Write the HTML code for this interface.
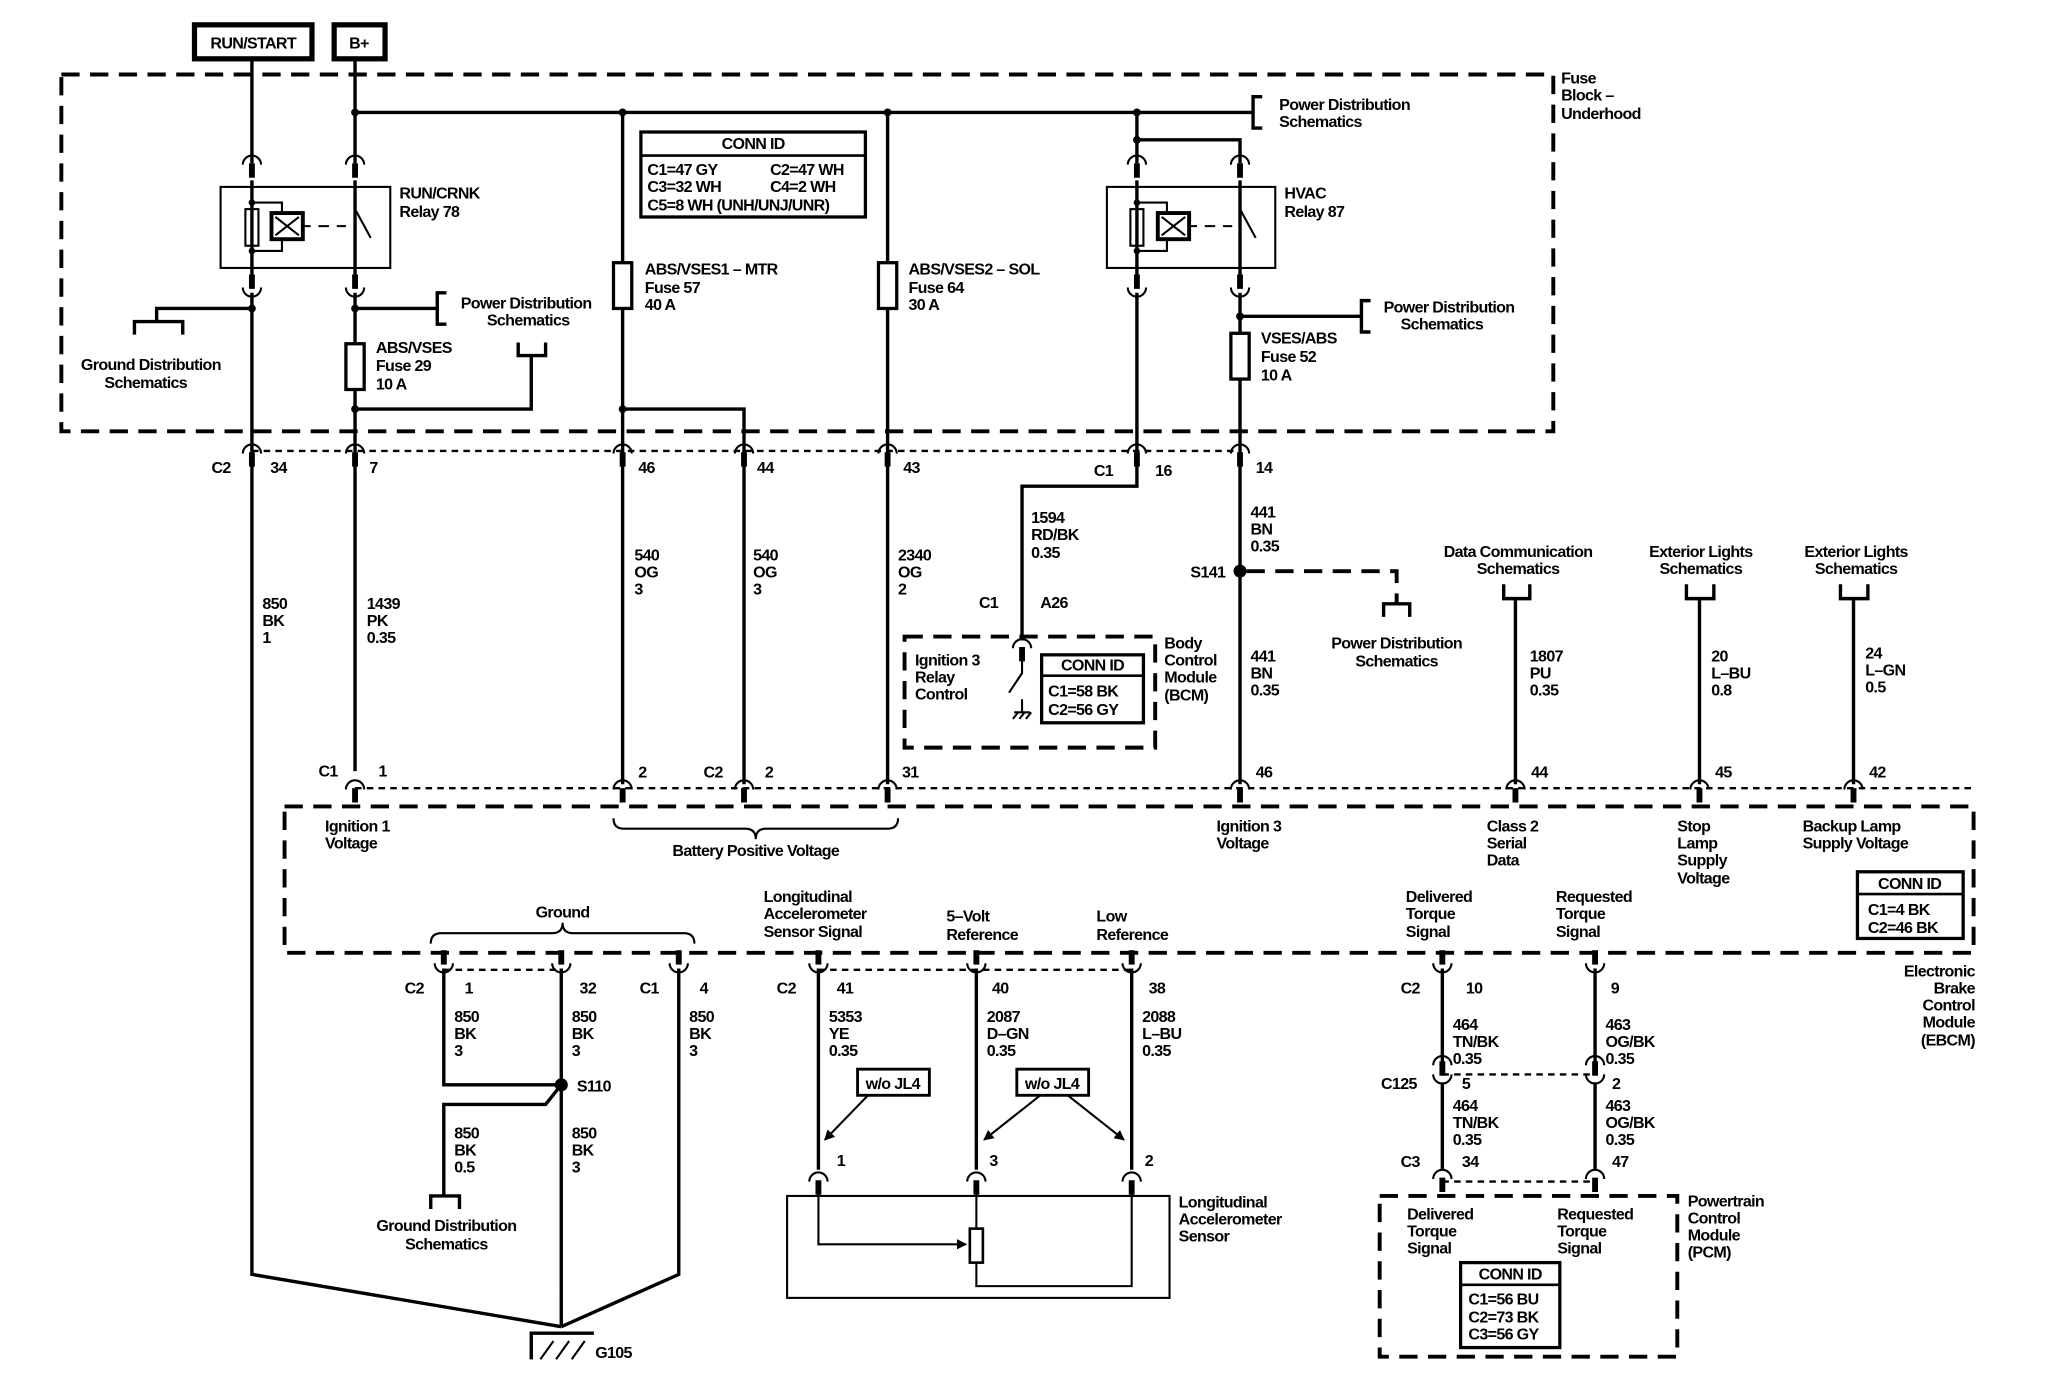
<!DOCTYPE html>
<html><head><meta charset="utf-8"><style>
html,body{margin:0;padding:0;background:#fff;}
svg{display:block;}
text{font-family:"Liberation Sans",Arial,sans-serif;font-size:12.3px;font-weight:bold;fill:#000;letter-spacing:-0.5px;}
.w{stroke:#000;stroke-width:2.6;fill:none;}
.t{stroke:#000;stroke-width:1.6;fill:none;}
.d{stroke:#000;stroke-width:3;fill:none;stroke-dasharray:14 8;}
.dd{stroke:#000;stroke-width:1.8;fill:none;stroke-dasharray:5 4;}
</style></head><body>
<svg width="2048" height="1392" viewBox="0 0 1569 1065" preserveAspectRatio="none" xmlns="http://www.w3.org/2000/svg">
<defs>
<g id="cap"><path d="M-7,4 A7,7 0 0 1 7,4" class="t" stroke-width="2.2"/><line x1="0" y1="3" x2="0" y2="14" stroke="#000" stroke-width="4.5"/></g>
<g id="cup"><path d="M-7,-4 A7,7 0 0 0 7,-4" class="t" stroke-width="2.2"/><line x1="0" y1="-3" x2="0" y2="-14" stroke="#000" stroke-width="4.5"/></g>
<marker id="ar" markerWidth="8" markerHeight="8" refX="7" refY="4" orient="auto" markerUnits="userSpaceOnUse"><path d="M0,0 L8,4 L0,8 z" fill="#000"/></marker>
</defs>

<rect x="149" y="19" width="90" height="26" fill="none" stroke="#000" stroke-width="4"/>
<text x="194" y="37" text-anchor="middle" font-size="12">RUN/START</text>
<rect x="256" y="19" width="39" height="26" fill="none" stroke="#000" stroke-width="4"/>
<text x="275" y="37" text-anchor="middle">B+</text>

<rect x="47" y="57" width="1143" height="273" class="d"/>
<text x="1196" y="64">Fuse</text><text x="1196" y="77">Block –</text><text x="1196" y="91">Underhood</text>

<path class="w" d="M193,46 V125 M193,138 V211 M193,224 V975 L430,1015"/>
<path class="w" d="M272,46 V125 M272,138 V211 M272,224 V590"/>
<path class="w" d="M272,86 H960"/>
<path class="w" d="M477,86 V600 M680,86 V600"/>
<path class="w" d="M477,313 H570 V600"/>
<path class="w" d="M871,86 V125 M871,138 V211 M871,224 V345"/>
<path class="w" d="M871,107 H950 V125 M950,138 V211 M950,224 V600"/>
<path class="w" d="M272,313 H407 V272"/>
<circle cx="272" cy="86" r="3"/><circle cx="477" cy="86" r="3"/><circle cx="680" cy="86" r="3"/><circle cx="871" cy="86" r="3"/><circle cx="871" cy="107" r="3"/>
<circle cx="272" cy="313" r="3"/><circle cx="477" cy="313" r="3"/><circle cx="193" cy="236" r="3"/><circle cx="272" cy="236" r="3"/><circle cx="950" cy="242" r="3"/>

<path class="w" d="M967,74 H960 V98 H967"/>
<text x="980" y="84">Power Distribution</text><text x="980" y="97">Schematics</text>
<path class="w" d="M272,236 H335 M342,224 H335 V248 H342"/>
<text x="353" y="236">Power Distribution</text><text x="373" y="249">Schematics</text>
<path class="w" d="M397,262 V272 H418 V262"/>
<path class="w" d="M193,236 H120 V246 M103,256 V246 H140 V256"/>
<text x="62" y="283">Ground Distribution</text><text x="80" y="297">Schematics</text>
<path class="w" d="M950,242 H1043 M1050,230 H1043 V254 H1050"/>
<text x="1060" y="239">Power Distribution</text><text x="1073" y="252">Schematics</text>

<rect x="169" y="143" width="130" height="62" class="t" stroke-width="2"/>
<rect x="188" y="160" width="10" height="28" class="t" stroke-width="2"/>
<path class="t" stroke-width="2" d="M193,155 H216 V163 M216,184 V192 H193"/>
<circle cx="193" cy="155" r="2.5"/><circle cx="193" cy="192" r="2.5"/>
<rect x="208" y="163" width="24" height="20" fill="none" stroke="#000" stroke-width="3"/>
<path class="t" d="M211,166 L229,180 M229,166 L211,180"/>
<path class="t" stroke-width="2" d="M232,173 H238 M244,173 H252 M258,173 H265"/>
<path class="t" stroke-width="2" d="M272,150 V160 L284,182 M272,190 V205"/>
<use href="#cap" x="193" y="122"/><use href="#cap" x="272" y="122"/>
<use href="#cup" x="193" y="224"/><use href="#cup" x="272" y="224"/>
<text x="306" y="152">RUN/CRNK</text><text x="306" y="166">Relay 78</text>

<rect x="848" y="143" width="129" height="62" class="t" stroke-width="2"/>
<rect x="866" y="160" width="10" height="28" class="t" stroke-width="2"/>
<path class="t" stroke-width="2" d="M871,155 H894 V163 M894,184 V192 H871"/>
<circle cx="871" cy="155" r="2.5"/><circle cx="871" cy="192" r="2.5"/>
<rect x="887" y="163" width="24" height="20" fill="none" stroke="#000" stroke-width="3"/>
<path class="t" d="M890,166 L908,180 M908,166 L890,180"/>
<path class="t" stroke-width="2" d="M911,173 H917 M923,173 H931 M937,173 H944"/>
<path class="t" stroke-width="2" d="M950,150 V160 L962,182 M950,190 V205"/>
<use href="#cap" x="871" y="122"/><use href="#cap" x="950" y="122"/>
<use href="#cup" x="871" y="224"/><use href="#cup" x="950" y="224"/>
<text x="984" y="152">HVAC</text><text x="984" y="166">Relay 87</text>

<rect x="265" y="263" width="14" height="35" fill="#fff" stroke="#000" stroke-width="2.5"/>
<text x="288" y="270">ABS/VSES</text><text x="288" y="284">Fuse 29</text><text x="288" y="298">10 A</text>
<rect x="470" y="201" width="14" height="35" fill="#fff" stroke="#000" stroke-width="2.5"/>
<text x="494" y="210">ABS/VSES1 – MTR</text><text x="494" y="224">Fuse 57</text><text x="494" y="237">40 A</text>
<rect x="673" y="201" width="14" height="35" fill="#fff" stroke="#000" stroke-width="2.5"/>
<text x="696" y="210">ABS/VSES2 – SOL</text><text x="696" y="224">Fuse 64</text><text x="696" y="237">30 A</text>
<rect x="943" y="255" width="14" height="35" fill="#fff" stroke="#000" stroke-width="2.5"/>
<text x="966" y="263">VSES/ABS</text><text x="966" y="277">Fuse 52</text><text x="966" y="291">10 A</text>

<rect x="491" y="101" width="172" height="65" fill="#fff" stroke="#000" stroke-width="2.5"/>
<line x1="491" y1="119" x2="663" y2="119" stroke="#000" stroke-width="2"/>
<text x="577" y="114" text-anchor="middle">CONN ID</text>
<text x="496" y="134">C1=47 GY</text><text x="590" y="134">C2=47 WH</text>
<text x="496" y="147">C3=32 WH</text><text x="590" y="147">C4=2 WH</text>
<text x="496" y="161">C5=8 WH (UNH/UNJ/UNR)</text>

<path class="dd" d="M193,345 H950"/>
<use href="#cap" x="193" y="343"/><use href="#cap" x="272" y="343"/><use href="#cap" x="477" y="343"/><use href="#cap" x="570" y="343"/><use href="#cap" x="680" y="343"/><use href="#cap" x="871" y="343"/><use href="#cap" x="950" y="343"/>
<text x="162" y="362">C2</text><text x="207" y="362">34</text><text x="283" y="362">7</text><text x="489" y="362">46</text><text x="580" y="362">44</text><text x="692" y="362">43</text>
<text x="838" y="364">C1</text><text x="885" y="364">16</text><text x="962" y="362">14</text>

<text x="201" y="466">850</text><text x="201" y="479">BK</text><text x="201" y="492">1</text>
<text x="281" y="466">1439</text><text x="281" y="479">PK</text><text x="281" y="492">0.35</text>
<text x="486" y="429">540</text><text x="486" y="442">OG</text><text x="486" y="455">3</text>
<text x="577" y="429">540</text><text x="577" y="442">OG</text><text x="577" y="455">3</text>
<text x="688" y="429">2340</text><text x="688" y="442">OG</text><text x="688" y="455">2</text>
<text x="790" y="400">1594</text><text x="790" y="413">RD/BK</text><text x="790" y="427">0.35</text>
<text x="958" y="396">441</text><text x="958" y="409">BN</text><text x="958" y="422">0.35</text>
<text x="958" y="506">441</text><text x="958" y="519">BN</text><text x="958" y="532">0.35</text>

<path class="w" d="M871,345 V372 H783 V490"/>
<use href="#cap" x="783" y="492"/>
<text x="750" y="465">C1</text><text x="797" y="465">A26</text>
<path class="t" stroke-width="2" d="M783,506 V515 L773,530 M783,535 V545 M777,545 H789 M776,550 L780,545 M781,550 L785,545 M786,550 L790,545"/>
<rect x="693" y="487" width="192" height="85" class="d" stroke-width="2.6" stroke-dasharray="12 7"/>
<text x="701" y="509">Ignition 3</text><text x="701" y="522">Relay</text><text x="701" y="535">Control</text>
<rect x="798" y="501" width="78" height="52" fill="#fff" stroke="#000" stroke-width="2.5"/>
<line x1="798" y1="517" x2="876" y2="517" stroke="#000" stroke-width="2"/>
<text x="837" y="513" text-anchor="middle">CONN ID</text>
<text x="803" y="533">C1=58 BK</text><text x="803" y="547">C2=56 GY</text>
<text x="892" y="496">Body</text><text x="892" y="509">Control</text><text x="892" y="522">Module</text><text x="892" y="536">(BCM)</text>

<circle cx="950" cy="437" r="5"/>
<text x="912" y="442">S141</text>
<path class="d" stroke-width="2.6" stroke-dasharray="10 7" d="M955,437 H1070 V462"/>
<path class="w" d="M1070,455 V462 M1060,472 V462 H1080 V472"/>
<text x="1070" y="496" text-anchor="middle">Power Distribution</text><text x="1070" y="510" text-anchor="middle">Schematics</text>

<text x="1163" y="426" text-anchor="middle">Data Communication</text><text x="1163" y="439" text-anchor="middle">Schematics</text>
<path class="w" d="M1152,447 V458 H1172 V447 M1161,458 V600"/>
<text x="1172" y="506">1807</text><text x="1172" y="519">PU</text><text x="1172" y="532">0.35</text>
<text x="1303" y="426" text-anchor="middle">Exterior Lights</text><text x="1303" y="439" text-anchor="middle">Schematics</text>
<path class="w" d="M1292,447 V458 H1313 V447 M1302,458 V600"/>
<text x="1311" y="506">20</text><text x="1311" y="519">L–BU</text><text x="1311" y="532">0.8</text>
<text x="1422" y="426" text-anchor="middle">Exterior Lights</text><text x="1422" y="439" text-anchor="middle">Schematics</text>
<path class="w" d="M1410,447 V458 H1431 V447 M1420,458 V600"/>
<text x="1429" y="504">24</text><text x="1429" y="517">L–GN</text><text x="1429" y="530">0.5</text>

<rect x="218" y="617" width="1294" height="112" class="d"/>
<path class="dd" d="M272,603 H1512"/>
<use href="#cap" x="272" y="600"/><use href="#cap" x="477" y="600"/><use href="#cap" x="570" y="600"/><use href="#cap" x="680" y="600"/><use href="#cap" x="950" y="600"/><use href="#cap" x="1161" y="600"/><use href="#cap" x="1302" y="600"/><use href="#cap" x="1420" y="600"/>
<text x="244" y="594">C1</text><text x="290" y="594">1</text><text x="489" y="595">2</text><text x="539" y="595">C2</text><text x="586" y="595">2</text><text x="691" y="595">31</text>
<text x="962" y="595">46</text><text x="1173" y="595">44</text><text x="1314" y="595">45</text><text x="1432" y="595">42</text>
<text x="249" y="636">Ignition 1</text><text x="249" y="649">Voltage</text>
<path class="t" stroke-width="2" d="M470,626 Q470,634 478,634 H571 Q579,634 579,642 Q579,634 587,634 H680 Q688,634 688,626"/>
<text x="579" y="655" text-anchor="middle">Battery Positive Voltage</text>
<text x="932" y="636">Ignition 3</text><text x="932" y="649">Voltage</text>
<text x="1139" y="636">Class 2</text><text x="1139" y="649">Serial</text><text x="1139" y="662">Data</text>
<text x="1285" y="636">Stop</text><text x="1285" y="649">Lamp</text><text x="1285" y="662">Supply</text><text x="1285" y="676">Voltage</text>
<text x="1381" y="636">Backup Lamp</text><text x="1381" y="649">Supply Voltage</text>
<path class="t" stroke-width="2" d="M330,722 Q330,714 338,714 H423 Q431,714 431,706 Q431,714 439,714 H524 Q532,714 532,722"/>
<text x="431" y="702" text-anchor="middle">Ground</text>
<text x="585" y="690">Longitudinal</text><text x="585" y="703">Accelerometer</text><text x="585" y="717">Sensor Signal</text>
<text x="725" y="705">5–Volt</text><text x="725" y="719">Reference</text>
<text x="840" y="705">Low</text><text x="840" y="719">Reference</text>
<text x="1077" y="690">Delivered</text><text x="1077" y="703">Torque</text><text x="1077" y="717">Signal</text>
<text x="1192" y="690">Requested</text><text x="1192" y="703">Torque</text><text x="1192" y="717">Signal</text>
<rect x="1423" y="667" width="81" height="51" fill="#fff" stroke="#000" stroke-width="2.5"/>
<line x1="1423" y1="684" x2="1504" y2="684" stroke="#000" stroke-width="2"/>
<text x="1463" y="680" text-anchor="middle">CONN ID</text>
<text x="1431" y="700">C1=4 BK</text><text x="1431" y="714">C2=46 BK</text>
<g text-anchor="end"><text x="1513" y="747">Electronic</text><text x="1513" y="760">Brake</text><text x="1513" y="773">Control</text><text x="1513" y="786">Module</text><text x="1513" y="800">(EBCM)</text></g>

<path class="dd" d="M340,742 H430 M627,742 H867"/>
<use href="#cup" x="340" y="741"/><use href="#cup" x="430" y="741"/><use href="#cup" x="520" y="741"/><use href="#cup" x="627" y="741"/><use href="#cup" x="748" y="741"/><use href="#cup" x="867" y="741"/><use href="#cup" x="1105" y="741"/><use href="#cup" x="1222" y="741"/>
<text x="310" y="760">C2</text><text x="356" y="760">1</text><text x="444" y="760">32</text><text x="490" y="760">C1</text><text x="536" y="760">4</text>
<text x="595" y="760">C2</text><text x="641" y="760">41</text><text x="760" y="760">40</text><text x="880" y="760">38</text>
<text x="1073" y="760">C2</text><text x="1123" y="760">10</text><text x="1234" y="760">9</text>

<path class="w" d="M340,741 V830 H430 M430,741 V1015 M520,741 V975 L430,1015"/>
<path class="w" d="M430,830 L418,845 H340 V915 M330,925 V915 H352 V925"/>
<circle cx="430" cy="830" r="5"/><text x="442" y="835">S110</text>
<text x="348" y="782">850</text><text x="348" y="795">BK</text><text x="348" y="808">3</text>
<text x="438" y="782">850</text><text x="438" y="795">BK</text><text x="438" y="808">3</text>
<text x="528" y="782">850</text><text x="528" y="795">BK</text><text x="528" y="808">3</text>
<text x="348" y="871">850</text><text x="348" y="884">BK</text><text x="348" y="897">0.5</text>
<text x="438" y="871">850</text><text x="438" y="884">BK</text><text x="438" y="897">3</text>
<text x="342" y="942" text-anchor="middle">Ground Distribution</text><text x="342" y="956" text-anchor="middle">Schematics</text>
<path class="w" d="M407,1040 V1020 H455"/>
<path class="t" stroke-width="2" d="M414,1040 L424,1026 M426,1040 L436,1026 M438,1040 L448,1026"/>
<text x="456" y="1039">G105</text>

<path class="w" d="M627,741 V895 M748,741 V895 M867,741 V895"/>
<text x="635" y="782">5353</text><text x="635" y="795">YE</text><text x="635" y="808">0.35</text>
<text x="756" y="782">2087</text><text x="756" y="795">D–GN</text><text x="756" y="808">0.35</text>
<text x="875" y="782">2088</text><text x="875" y="795">L–BU</text><text x="875" y="808">0.35</text>
<rect x="657" y="818" width="55" height="20" fill="#fff" stroke="#000" stroke-width="2.2"/><text x="684" y="833" text-anchor="middle">w/o JL4</text>
<rect x="779" y="818" width="55" height="20" fill="#fff" stroke="#000" stroke-width="2.2"/><text x="806" y="833" text-anchor="middle">w/o JL4</text>
<path class="t" d="M665,838 L632,872" marker-end="url(#ar)"/>
<path class="t" d="M797,838 L754,872" marker-end="url(#ar)"/>
<path class="t" d="M818,838 L861,872" marker-end="url(#ar)"/>
<rect x="603" y="915" width="293" height="78" class="t" stroke-width="2"/>
<use href="#cap" x="627" y="900"/><use href="#cap" x="748" y="900"/><use href="#cap" x="867" y="900"/>
<text x="641" y="892">1</text><text x="758" y="892">3</text><text x="877" y="892">2</text>
<path class="t" stroke-width="2.2" d="M627,912 V952 H740" marker-end="url(#ar)"/>
<path class="t" stroke-width="2.2" d="M748,912 V940 M748,966 V984 H867 V912"/>
<rect x="743" y="940" width="10" height="26" fill="#fff" stroke="#000" stroke-width="2"/>
<text x="903" y="924">Longitudinal</text><text x="903" y="937">Accelerometer</text><text x="903" y="950">Sensor</text>

<path class="w" d="M1105,741 V815 M1105,828 V895 M1222,741 V815 M1222,828 V895"/>
<path class="dd" d="M1105,822 H1222 M1105,904 H1222"/>
<use href="#cup" x="1105" y="826"/><use href="#cup" x="1222" y="826"/>
<path d="M1098,815 A7,7 0 0 1 1112,815 M1215,815 A7,7 0 0 1 1229,815" class="t" stroke-width="2.2"/>
<text x="1113" y="788">464</text><text x="1113" y="801">TN/BK</text><text x="1113" y="814">0.35</text>
<text x="1230" y="788">463</text><text x="1230" y="801">OG/BK</text><text x="1230" y="814">0.35</text>
<text x="1058" y="833">C125</text><text x="1120" y="833">5</text><text x="1235" y="833">2</text>
<text x="1113" y="850">464</text><text x="1113" y="863">TN/BK</text><text x="1113" y="876">0.35</text>
<text x="1230" y="850">463</text><text x="1230" y="863">OG/BK</text><text x="1230" y="876">0.35</text>
<text x="1073" y="893">C3</text><text x="1120" y="893">34</text><text x="1235" y="893">47</text>
<use href="#cap" x="1105" y="898"/><use href="#cap" x="1222" y="898"/>
<rect x="1057" y="915" width="228" height="123" class="d" stroke-width="2.6" stroke-dasharray="12 7"/>
<text x="1078" y="933">Delivered</text><text x="1078" y="946">Torque</text><text x="1078" y="959">Signal</text>
<text x="1193" y="933">Requested</text><text x="1193" y="946">Torque</text><text x="1193" y="959">Signal</text>
<rect x="1119" y="966" width="76" height="65" fill="#fff" stroke="#000" stroke-width="2.5"/>
<line x1="1119" y1="983" x2="1195" y2="983" stroke="#000" stroke-width="2"/>
<text x="1157" y="979" text-anchor="middle">CONN ID</text>
<text x="1125" y="998">C1=56 BU</text><text x="1125" y="1012">C2=73 BK</text><text x="1125" y="1025">C3=56 GY</text>
<text x="1293" y="923">Powertrain</text><text x="1293" y="936">Control</text><text x="1293" y="949">Module</text><text x="1293" y="962">(PCM)</text>
</svg>
</body></html>
